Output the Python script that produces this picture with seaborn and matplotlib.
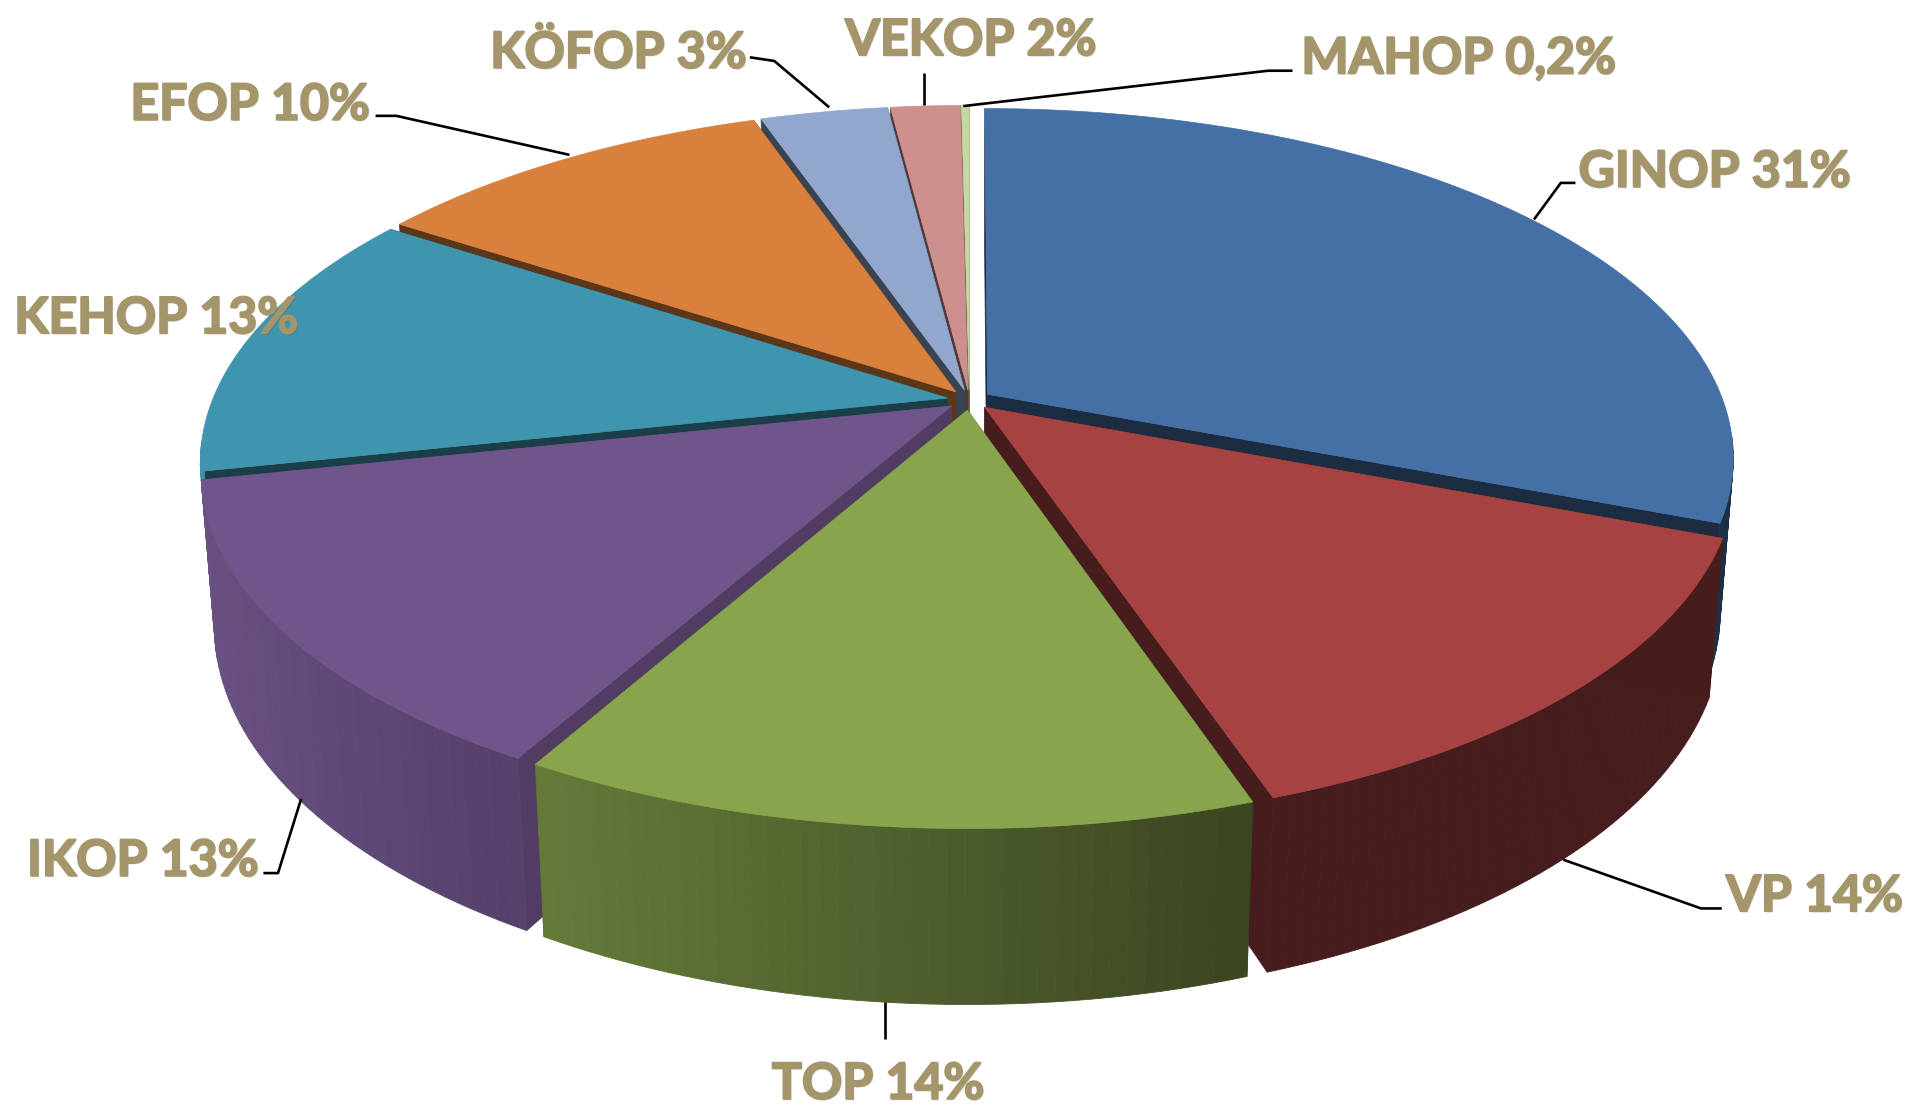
#!/usr/bin/env python3
"""Exploded 3D-look pie of the operational programme shares."""

import numpy as np
import matplotlib

matplotlib.use("Agg")
import matplotlib.pyplot as plt
import matplotlib.patheffects as pe
import seaborn as sns

# data (slice sizes as measured on the picture, labels as printed on it)
programmes = ["GINOP", "VP", "TOP", "IKOP", "KEHOP", "EFOP", "KÖFOP", "VEKOP", "MAHOP"]
shares = [30.9, 14.0, 13.4, 13.5, 12.6, 10.5, 3.3, 1.8, 0.2]
share_labels = ["31%", "14%", "14%", "13%", "13%", "10%", "3%", "2%", "0,2%"]
top_colors = ["#4570A6", "#A64342", "#88A44D", "#70558B", "#4095AE",
              "#D8803C", "#92A7CE", "#CE8F8F", "#C6D7A2"]
wall_shades = [0.40, 0.42, 0.42, 0.72, 0.42, 0.42, 0.40, 0.40, 0.50]

# layout, in px of the 1568 wide preview, scaled up by S
S = 1912 / 1568
CX, CY = 795 * S, 328 * S
RX, RY = 603 * S, 278 * S
DEPTH = 126 * S
PERSP, PERSP_Z = 0.18, 0.017
EXPLODE = 0.03
LABEL_POS = [(1406, 138), (1488, 732), (720, 886), (117, 703), (128, 258),
             (205, 83), (507, 40), (796, 30), (1196, 45)]
LEADERS = [
    [(1292, 150), (1280, 150), (1258, 180)],
    [(1412, 745), (1395, 745), (1282, 705)],
    [(726, 852), (726, 822)],
    [(216, 716), (228, 716), (247, 655)],
    [(308, 95), (325, 95), (467, 127)],
    [(615, 47), (635, 50), (680, 88)],
    [(758, 60), (758, 86)],
    [(1060, 58), (1040, 58), (790, 87)],
]


def project(u, v, z=0.0):
    w = 1 - PERSP * v + PERSP_Z * z
    return CX + RX * u / w, CY + (RY * v + DEPTH * z) / w


def side_shade(u):
    return np.clip(0.55 - 0.4 * u, 0.42, 1.0)


def dim(color, f):
    return tuple(c * f for c in matplotlib.colors.to_rgb(color))


def draw_wedge(ax, a0, a1, color, wall):
    mid = (a0 + a1) / 2
    du, dv = EXPLODE * np.sin(mid), -EXPLODE * np.cos(mid)
    ang = np.linspace(a0, a1, max(int((a1 - a0) * 50), 6))
    u, v = np.sin(ang) + du, -np.cos(ang) + dv
    wall_col = dim(color, wall)

    # radial walls
    for a in (a0, a1):
        ru, rv = np.sin(a) + du, -np.cos(a) + dv
        pts = [project(du, dv), project(ru, rv), project(ru, rv, 1), project(du, dv, 1)]
        ax.fill(*zip(*pts), color=wall_col, lw=0.5)

    # outer wall, one strip per step so the shading can run along it
    for i in range(len(ang) - 1):
        if -np.cos(ang[i:i + 2]).mean() < 0.12:
            continue  # faces away from the viewer
        pts = [project(u[i], v[i]), project(u[i + 1], v[i + 1]),
               project(u[i + 1], v[i + 1], 1), project(u[i], v[i], 1)]
        col = dim(color, side_shade((u[i] + u[i + 1]) / 2))
        ax.fill(*zip(*pts), color=col, lw=0.6)

    # top
    xs, ys = project(u, v)
    ax.fill(np.r_[project(du, dv)[0], xs], np.r_[project(du, dv)[1], ys],
            color=color, lw=0.5)


def main():
    sns.set_theme(style="white")
    plt.rcParams["font.family"] = ["Lato", "DejaVu Sans"]
    palette = sns.color_palette(top_colors)

    fig = plt.figure(figsize=(19.12, 11.05), dpi=100)
    ax = fig.add_axes([0, 0, 1, 1])
    ax.set_xlim(0, 1912)
    ax.set_ylim(1105, 0)
    ax.axis("off")

    edges = np.r_[0, np.cumsum(shares)] / sum(shares) * 2 * np.pi
    spans = list(zip(edges[:-1], edges[1:], palette, wall_shades))
    # back to front
    for a0, a1, col, wall in sorted(spans, key=lambda s: -np.cos((s[0] + s[1]) / 2)):
        draw_wedge(ax, a0, a1, col, wall)

    for line in LEADERS:
        xs, ys = zip(*line)
        ax.plot(np.array(xs) * S, np.array(ys) * S, color="black", lw=1.9,
                solid_capstyle="butt")

    for name, share, (x, y) in zip(programmes, share_labels, LABEL_POS):
        ax.text(x * S, y * S, f"{name} {share}", color="#A4966A", fontsize=36,
                fontweight="bold", ha="center", va="center_baseline",
                path_effects=[
                    pe.withSimplePatchShadow(offset=(1, -1), shadow_rgbFace="#222222", alpha=0.18),
                    pe.withStroke(linewidth=1.4, foreground="#A4966A"),
                ])

    fig.savefig("out.png", dpi=100, facecolor="white")


if __name__ == "__main__":
    main()
